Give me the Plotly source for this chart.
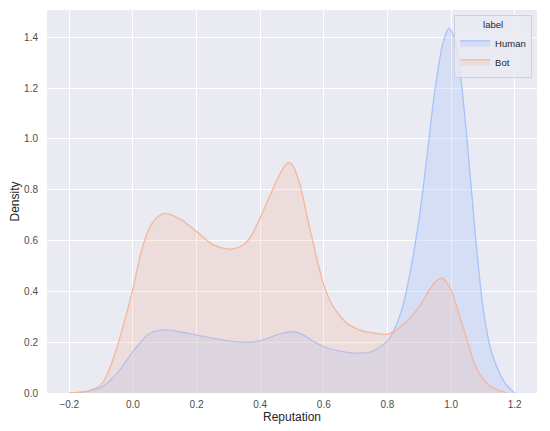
import plotly.graph_objects as go

# Human KDE
human_x = [-0.2, -0.15, -0.1, -0.05, 0.0, 0.05, 0.1, 0.15, 0.2, 0.25, 0.3, 0.35, 0.4, 0.45,
           0.5, 0.525, 0.55, 0.575, 0.6, 0.65, 0.7, 0.75, 0.8, 0.825, 0.85, 0.875, 0.9, 0.925,
           0.95, 0.975, 0.993, 1.01, 1.025, 1.05, 1.075, 1.1, 1.125, 1.15, 1.175, 1.2]
human_y = [0.0, 0.005, 0.022, 0.077, 0.163, 0.232, 0.248, 0.24, 0.228, 0.216, 0.205, 0.2, 0.205, 0.228,
           0.241, 0.235, 0.218, 0.198, 0.182, 0.165, 0.157, 0.163, 0.205, 0.26, 0.35, 0.5, 0.69, 0.94,
           1.2, 1.38, 1.435, 1.4, 1.3, 1.0, 0.64, 0.34, 0.17, 0.085, 0.03, 0.0]

# Bot KDE
bot_x = [-0.2, -0.15, -0.1, -0.075, -0.05, -0.025, 0.0, 0.025, 0.05, 0.075, 0.1, 0.15, 0.2, 0.25,
         0.3, 0.325, 0.35, 0.375, 0.4, 0.425, 0.45, 0.475, 0.49, 0.5, 0.525, 0.55, 0.575, 0.6,
         0.625, 0.65, 0.675, 0.7, 0.725, 0.75, 0.8, 0.85, 0.9, 0.925, 0.95, 0.972, 1.0, 1.025,
         1.05, 1.075, 1.1, 1.125, 1.15, 1.175]
bot_y = [0.0, 0.005, 0.033, 0.09, 0.18, 0.29, 0.41, 0.55, 0.645, 0.69, 0.707, 0.683, 0.635, 0.585,
         0.566, 0.57, 0.585, 0.625, 0.69, 0.76, 0.83, 0.89, 0.906, 0.9, 0.82, 0.68, 0.545, 0.425,
         0.35, 0.305, 0.272, 0.255, 0.242, 0.237, 0.232, 0.27, 0.34, 0.392, 0.437, 0.452, 0.405, 0.31,
         0.21, 0.11, 0.055, 0.025, 0.01, 0.0]

x_ticks = [-0.2, 0.0, 0.2, 0.4, 0.6, 0.8, 1.0, 1.2]
y_ticks = [0.0, 0.2, 0.4, 0.6, 0.8, 1.0, 1.2, 1.4]

human_color = "#a5c3fd"
bot_color = "#f5b69a"

fig = go.Figure()
fig.add_trace(go.Scatter(
    x=human_x, y=human_y, name="Human", mode="lines",
    line=dict(color=human_color, width=1.3, shape="spline", smoothing=0.8),
    fill="tozeroy", fillcolor="rgba(165,195,253,0.30)"))
fig.add_trace(go.Scatter(
    x=bot_x, y=bot_y, name="Bot", mode="lines",
    line=dict(color=bot_color, width=1.3, shape="spline", smoothing=0.8),
    fill="tozeroy", fillcolor="rgba(245,182,154,0.25)"))

font_family = "Liberation Sans, Arial, sans-serif"
# the page body has an 8px margin; the figure is sized so that it ends at the window edge
fig.update_layout(
    width=542, height=423,
    margin=dict(l=39, r=13, t=2, b=38),
    paper_bgcolor="white", plot_bgcolor="#EAEAF2",
    font=dict(family=font_family, color="#262626", size=10),
    showlegend=True,
    legend=dict(
        title=dict(text="label", side="top center", font=dict(size=9.5, color="#262626")),
        x=0.99, y=0.987, xanchor="right", yanchor="top",
        bgcolor="rgba(234,234,242,0.8)", bordercolor="#d0d0d8", borderwidth=1,
        font=dict(size=9.5, color="#262626"),
        itemwidth=30, tracegroupgap=0),
)
fig.update_xaxes(
    range=[-0.27, 1.27], tickvals=x_ticks, tickformat=".1f",
    showgrid=True, gridcolor="white", gridwidth=1, zeroline=False,
    showline=False, ticks="", automargin=False, ticklabelstandoff=4,
    tickfont=dict(size=10, color="#4d4d4d"),
    title=dict(text="Reputation", font=dict(size=12, color="#262626"), standoff=3))
fig.update_yaxes(
    range=[0, 1.507], tickvals=y_ticks, tickformat=".1f",
    showgrid=True, gridcolor="white", gridwidth=1, zeroline=False,
    showline=False, ticks="", automargin=False, ticklabelstandoff=8,
    tickfont=dict(size=10, color="#4d4d4d"),
    title=dict(text="Density", font=dict(size=12, color="#262626"), standoff=6))

fig.write_html("out.html")
